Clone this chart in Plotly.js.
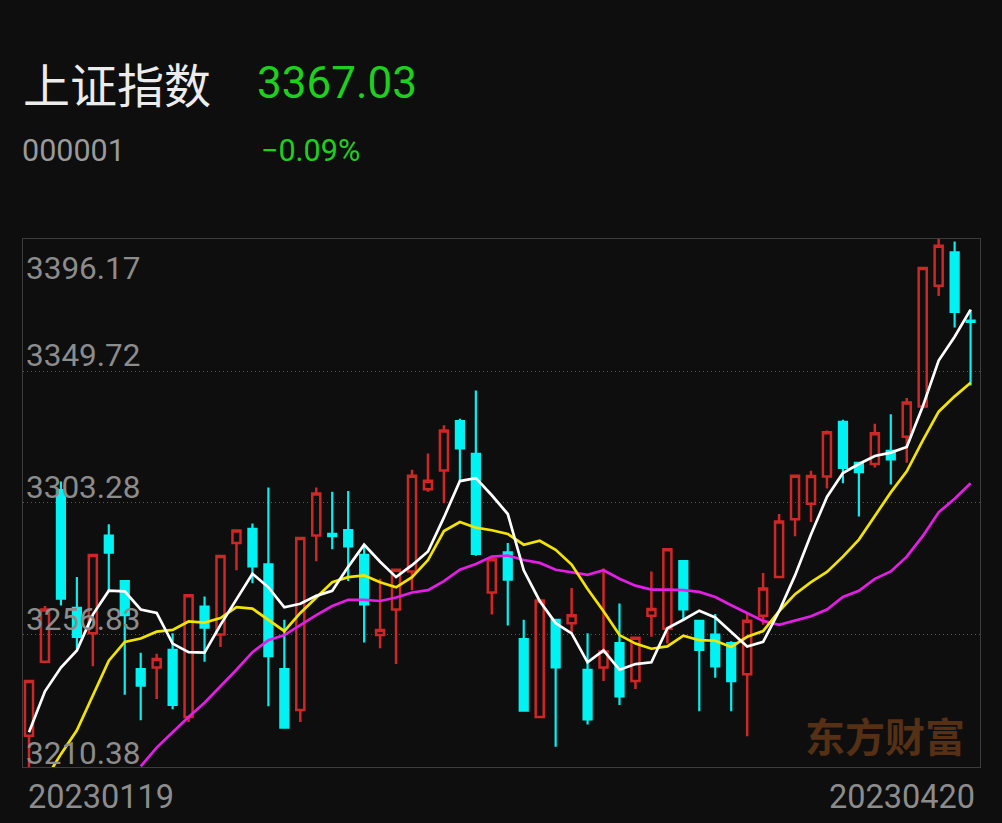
<!DOCTYPE html>
<html>
<head>
<meta charset="utf-8">
<script src="https://cdn.plot.ly/plotly-3.0.1.min.js"></script>
<style>
html,body{margin:0;padding:0;background:#0e0e0e;}
#chart{width:1002px;height:823px;}
</style>
</head>
<body>
<div id="chart"></div>
<script>
// ---------- data ----------
const dates = [
  '20230119','20230120','20230130','20230131',
  '20230201','20230202','20230203','20230206','20230207','20230208','20230209','20230210',
  '20230213','20230214','20230215','20230216','20230217','20230220','20230221','20230222',
  '20230223','20230224','20230227','20230228',
  '20230301','20230302','20230303','20230306','20230307','20230308','20230309','20230310',
  '20230313','20230314','20230315','20230316','20230317','20230320','20230321','20230322',
  '20230323','20230324','20230327','20230328','20230329','20230330','20230331',
  '20230403','20230404','20230406','20230407','20230410','20230411','20230412','20230413',
  '20230414','20230417','20230418','20230419','20230420'
];
const openV = [
  3221.4,3247.4,3307.8,3266.4,3257.4,3291.8,3275.8,3244.8,3245.4,3251.6,3228.0,3266.8,
  3257.0,3289.2,3294.2,3281.7,3244.8,3230.4,3291.8,3292.4,3293.7,3285.0,3256.8,3265.8,
  3279.2,3308.1,3314.7,3332.1,3320.6,3271.8,3285.9,3255.4,3228.0,3262.2,3261.0,3244.6,
  3245.4,3254.0,3240.6,3263.6,3259.0,3282.8,3261.8,3257.0,3254.0,3243.0,3263.6,3277.2,
  3297.6,3303.0,3312.6,3331.8,3317.4,3317.0,3321.6,3326.6,3337.2,3379.7,3391.5,3367.5
];
const highV = [
  3240.8,3267.0,3310.8,3277.2,3285.3,3295.8,3276.2,3250.6,3250.2,3257.4,3271.0,3270.4,
  3284.8,3293.8,3296.1,3308.7,3262.2,3291.2,3308.7,3307.2,3307.5,3288.0,3276.6,3280.0,
  3315.0,3320.7,3330.6,3332.9,3342.9,3283.7,3289.2,3262.2,3269.2,3262.5,3273.4,3257.4,
  3280.2,3267.9,3256.1,3279.2,3287.2,3283.0,3262.0,3264.2,3254.6,3264.2,3278.6,3299.4,
  3313.1,3314.6,3328.8,3332.6,3317.7,3331.2,3334.5,3340.2,3386.2,3396.17,3395.3,3371.3
];
const lowV = [
  3210.4,3247.2,3267.2,3252.0,3245.8,3272.4,3235.8,3226.8,3234.3,3230.7,3226.2,3247.4,
  3252.6,3279.6,3275.0,3231.8,3223.8,3226.2,3282.8,3287.0,3275.8,3254.2,3252.2,3246.6,
  3272.6,3307.2,3303.2,3311.0,3284.7,3264.0,3260.2,3229.8,3227.8,3217.5,3257.4,3225.3,
  3240.6,3232.2,3237.8,3256.2,3253.8,3261.8,3230.0,3241.8,3230.0,3221.2,3260.4,3276.8,
  3291.6,3296.6,3308.4,3310.2,3298.5,3315.8,3309.8,3317.4,3337.0,3376.1,3365.0,3344.6
];
const closeV = [
  3240.6,3265.8,3269.6,3256.2,3285.0,3285.8,3263.8,3239.0,3248.4,3232.2,3270.8,3259.4,
  3284.6,3293.6,3281.0,3249.4,3224.2,3291.0,3306.6,3291.6,3288.0,3267.6,3258.6,3279.8,
  3312.9,3311.1,3328.8,3322.5,3285.4,3283.5,3276.3,3230.2,3269.0,3245.4,3263.8,3227.1,
  3251.0,3235.2,3255.9,3266.0,3287.0,3265.8,3251.6,3245.8,3240.6,3261.8,3273.2,3296.8,
  3312.9,3312.8,3328.2,3315.6,3314.1,3327.8,3318.6,3338.6,3386.0,3393.8,3370.5,3367.03
];
const ma5 = [
  3222.6,3237.0,3245.4,3251.4,3264.0,3272.4,3272.2,3265.8,3264.6,3253.8,3250.8,3250.6,
  3260.4,3269.4,3278.4,3273.6,3266.6,3267.8,3270.6,3272.4,3280.8,3288.6,3282.6,3277.2,
  3281.4,3286.2,3298.2,3311.0,3312.0,3306.0,3299.4,3279.6,3268.8,3261.0,3257.4,3247.2,
  3251.4,3244.6,3246.6,3247.2,3259.2,3262.2,3265.4,3263.0,3258.0,3252.8,3254.4,3265.2,
  3277.8,3292.2,3305.4,3313.8,3317.0,3319.8,3321.0,3323.0,3337.2,3353.4,3361.8,3371.3
];
const ma10 = [
  null,3205.8,3214.9,3223.3,3235.8,3247.8,3254.4,3255.6,3258.0,3258.6,3261.6,3261.2,
  3262.8,3266.6,3266.1,3262.2,3258.2,3264.6,3270.0,3275.4,3277.2,3277.8,3275.4,3273.6,
  3277.2,3283.2,3293.4,3296.6,3294.6,3293.7,3292.4,3288.6,3290.0,3286.8,3281.6,3273.0,
  3265.2,3256.8,3253.8,3252.0,3252.8,3256.6,3255.0,3254.8,3252.6,3256.2,3258.2,3265.2,
  3271.2,3275.4,3279.0,3284.4,3290.4,3298.8,3307.0,3314.4,3325.2,3335.4,3340.8,3345.6
];
const ma20 = [
  null,null,null,null,null,null,null,3210.6,3217.2,3222.6,3228.0,3233.0,
  3238.7,3244.6,3250.8,3255.0,3256.8,3260.4,3263.8,3267.0,3269.2,3269.2,3268.8,3270.0,
  3271.8,3272.6,3275.8,3279.8,3281.8,3284.4,3284.8,3283.2,3282.2,3279.8,3279.0,3278.0,
  3279.6,3276.6,3274.2,3272.8,3272.8,3272.6,3272.0,3270.2,3267.3,3264.6,3261.8,3260.4,
  3261.8,3263.4,3265.8,3270.2,3272.4,3276.6,3279.2,3284.4,3291.6,3300.0,3304.8,3310.2
];
const yTickValues = [3396.17, 3349.72, 3303.28, 3256.83, 3210.38];
const yTickLabels = ['3396.17', '3349.72', '3303.28', '3256.83', '3210.38'];
const xTickLabels = ['20230119', '20230420'];
const stockName = '上证指数';
const stockCode = '000001';
const lastPrice = '3367.03';
const changePct = '\u22120.09%';
const watermark = '东方财富';

// ---------- layout helpers ----------
const W = 1002, H = 823;
const M = {l: 23, r: 22, t: 239, b: 56};
const PW = W - M.l - M.r, PH = H - M.t - M.b;
const px = v => (v - M.l) / PW;           // page px -> paper x
const py = v => (H - M.b - v) / PH;       // page px -> paper y

const BG = '#0e0e0e';
const RED = '#cf2626';
const CYAN = '#00f2f2';
const GREEN = '#1ed01e';
const GRAY = '#8c8c8c';
const NUMFONT = 'Roboto, "Noto Sans", sans-serif';
const CJKFONT = '"Noto Sans CJK SC", "Noto Sans", sans-serif';

const traces = [
  {
    type: 'candlestick', x: dates, open: openV, high: highV, low: lowV, close: closeV,
    increasing: {line: {color: RED, width: 2.5}, fillcolor: 'rgba(0,0,0,0)'},
    decreasing: {line: {color: CYAN, width: 2.2}, fillcolor: CYAN},
    whiskerwidth: 0, hoverinfo: 'skip', showlegend: false
  },
  {type: 'scatter', mode: 'lines', x: dates, y: ma20, line: {color: '#e41ee4', width: 2.7}, hoverinfo: 'skip', showlegend: false},
  {type: 'scatter', mode: 'lines', x: dates, y: ma10, line: {color: '#f2e400', width: 2.7}, hoverinfo: 'skip', showlegend: false},
  {type: 'scatter', mode: 'lines', x: dates, y: ma5, line: {color: '#ffffff', width: 2.7}, hoverinfo: 'skip', showlegend: false}
];

const annotations = [];
// header
annotations.push({xref: 'paper', yref: 'paper', x: px(21), y: py(82), xanchor: 'left', yanchor: 'middle',
  text: stockName, showarrow: false, font: {family: CJKFONT, size: 47, color: '#ececec'}});
annotations.push({xref: 'paper', yref: 'paper', x: px(255), y: py(83), xanchor: 'left', yanchor: 'middle',
  text: lastPrice, showarrow: false, font: {family: NUMFONT, size: 44, color: GREEN}});
annotations.push({xref: 'paper', yref: 'paper', x: px(20), y: py(150), xanchor: 'left', yanchor: 'middle',
  text: stockCode, showarrow: false, font: {family: NUMFONT, size: 30.5, color: '#9a9a9a'}});
annotations.push({xref: 'paper', yref: 'paper', x: px(259), y: py(150), xanchor: 'left', yanchor: 'middle',
  text: changePct, showarrow: false, font: {family: NUMFONT, size: 30.5, color: GREEN}});
// y labels (inside plot)
const yShifts = [-29, 16, 15, 15, 14];
yTickValues.forEach((v, i) => {
  annotations.push({xref: 'paper', yref: 'y', x: px(24), y: v, xanchor: 'left', yanchor: 'middle', yshift: yShifts[i],
    text: yTickLabels[i], showarrow: false, font: {family: NUMFONT, size: 31.5, color: GRAY}});
});
// x labels
annotations.push({xref: 'paper', yref: 'paper', x: px(26), y: 0, xanchor: 'left', yanchor: 'middle', yshift: -30,
  text: xTickLabels[0], showarrow: false, font: {family: NUMFONT, size: 32.5, color: GRAY}});
annotations.push({xref: 'paper', yref: 'paper', x: px(977), y: 0, xanchor: 'right', yanchor: 'middle', yshift: -30,
  text: xTickLabels[1], showarrow: false, font: {family: NUMFONT, size: 32.5, color: GRAY}});
// watermark
annotations.push({xref: 'paper', yref: 'paper', x: px(885), y: py(735), xanchor: 'center', yanchor: 'middle',
  text: '<b>' + watermark + '</b>', showarrow: false, font: {family: CJKFONT, size: 40, color: '#553015'}});

const layout = {
  width: W, height: H,
  margin: M,
  paper_bgcolor: BG, plot_bgcolor: BG,
  showlegend: false,
  hovermode: false,
  boxgap: 0.28,
  xaxis: {
    type: 'category', range: [-0.376, 59.59], fixedrange: true,
    rangeslider: {visible: false},
    showgrid: false, zeroline: false, showticklabels: false, ticks: '',
    showline: true, mirror: true, linecolor: '#3c3c3c', linewidth: 1
  },
  yaxis: {
    range: [yTickValues[4], yTickValues[0]], fixedrange: true,
    tickvals: yTickValues.slice(1, 4), showticklabels: false, ticks: '',
    showgrid: true, gridcolor: '#5a5a5a', griddash: '1px,3px', gridwidth: 1,
    zeroline: false,
    showline: true, mirror: true, linecolor: '#3c3c3c', linewidth: 1
  },
  annotations: annotations
};

Plotly.newPlot('chart', traces, layout, {displayModeBar: false, staticPlot: true});
</script>
</body>
</html>
